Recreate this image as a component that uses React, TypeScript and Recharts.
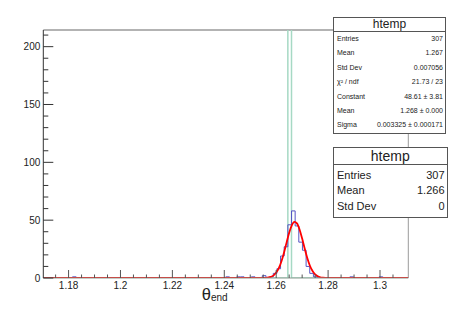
import { ComposedChart, Line, XAxis, YAxis, ReferenceLine, Label } from "recharts";

// axis range
const X_MIN = 1.17026;
const X_MAX = 1.3109;
const Y_MAX = 214.4;
const N_BINS = 100;

// blue htemp (non-empty bins only)
const binIndex = [8, 50, 53, 54, 57, 60, 62, 63, 64, 65, 66, 67, 68, 69, 70, 71, 72, 73, 74, 84, 92];
const binCount = [1, 1, 1, 1, 1, 2, 1, 4, 8, 19, 27, 46, 58, 45, 31, 24, 10, 4, 1, 1, 1];

// green htemp (all entries in one bin)
const greenIndex = [67];
const greenCount = [307];

// red fit curve (gaus)
const fitX = [1.17026, 1.255, 1.256, 1.257, 1.258, 1.259, 1.26, 1.261, 1.262, 1.263, 1.264, 1.265, 1.266, 1.267, 1.268, 1.269, 1.27, 1.271, 1.272, 1.273, 1.274, 1.275, 1.276, 1.277, 1.278, 1.279, 1.28, 1.3109];
const fitY = [0, 0.06, 0.17, 0.44, 1.06, 2.3, 4.7, 8.5, 14.3, 21.9, 30.6, 39.1, 45.5, 48.5, 47.2, 42.0, 34.1, 25.3, 17.1, 10.6, 6.0, 3.1, 1.5, 0.6, 0.25, 0.09, 0.03, 0];

const yTicks = Array.from({ length: 22 }, (_, i) => i * 10);
const xTicks = Array.from({ length: 27 }, (_, i) => (1175 + i * 5) / 1000);

const stats1 = [
  ["Entries", "307"],
  ["Mean", "1.267"],
  ["Std Dev", "0.007056"],
  ["χ² / ndf", "21.73 / 23"],
  ["Constant", "48.61 ± 3.81"],
  ["Mean", "1.268 ± 0.000"],
  ["Sigma", "0.003325 ± 0.000171"],
];
const stats2 = [
  ["Entries", "307"],
  ["Mean", "1.266"],
  ["Std Dev", "0"],
];

const FONT = "'Liberation Sans', Arial, Helvetica, sans-serif";

function stepData(idx: number[], cnt: number[]) {
  const w = (X_MAX - X_MIN) / N_BINS;
  const counts = new Array(N_BINS).fill(0);
  idx.forEach((b, i) => (counts[b] = cnt[i]));
  const pts = counts.map((c, i) => ({ x: X_MIN + i * w, y: c }));
  pts.push({ x: X_MAX, y: counts[N_BINS - 1] });
  return pts;
}

const histData = stepData(binIndex, binCount);
const greenData = stepData(greenIndex, greenCount);
const fitData = fitX.map((x, i) => ({ x, y: fitY[i] }));

const YTick = (props: any) => {
  const { x, y, payload } = props;
  const v = payload.value;
  const major = v % 50 === 0;
  return (
    <g>
      <line x1={x} y1={y} x2={x + (major ? 10 : 5)} y2={y} stroke="#333" />
      {major && (
        <text x={x - 3} y={y + 3.5} textAnchor="end" fontSize={10} fill="#222" fontFamily={FONT}>
          {v}
        </text>
      )}
    </g>
  );
};

const XTick = (props: any) => {
  const { x, y, payload } = props;
  const v = payload.value;
  const major = Math.abs(v * 50 - Math.round(v * 50)) < 1e-6;
  return (
    <g>
      <line x1={x} y1={y} x2={x} y2={y - (major ? 8 : 3.5)} stroke="#555" />
      {major && (
        <text x={x} y={y + 10.5} textAnchor="middle" fontSize={10} fill="#222" fontFamily={FONT}>
          {String(v)}
        </text>
      )}
    </g>
  );
};

const AxisTitle = (props: any) => {
  const vb = props.viewBox;
  return (
    <text x={vb.x + vb.width * 0.434} y={vb.y + 22} fontFamily={FONT} fill="#222">
      <tspan fontSize={16.5}>θ</tspan>
      <tspan fontSize={10} dy={0.7}>end</tspan>
    </text>
  );
};

function StatBox({ top, width, titleH, titleSize, rowH, rowSize, rows, padTop }: any) {
  return (
    <div
      style={{
        position: "absolute",
        left: 333,
        top,
        width,
        background: "#fff",
        border: "1px solid #555",
        fontFamily: FONT,
        color: "#222",
        boxSizing: "border-box",
      }}
    >
      <div
        style={{
          height: titleH,
          lineHeight: titleH + "px",
          textAlign: "center",
          fontSize: titleSize,
          borderBottom: "1px solid #555",
        }}
      >
        htemp
      </div>
      <div style={{ paddingTop: padTop, paddingBottom: padTop }}>
        {rows.map(([k, v]: string[], i: number) => (
          <div
            key={i}
            style={{
              display: "flex",
              justifyContent: "space-between",
              height: rowH,
              lineHeight: rowH + "px",
              fontSize: rowSize,
              padding: "0 2px 0 3px",
            }}
          >
            <span>{k}</span>
            <span>{v}</span>
          </div>
        ))}
      </div>
    </div>
  );
}

export default function App() {
  return (
    <div style={{ position: "relative", width: 454, height: 309, background: "#fff" }}>
      <style>{"body{margin:0}"}</style>
      <ComposedChart width={454} height={309} margin={{ top: 30, right: 45.7, bottom: 0, left: 0 }}>
        <XAxis
          dataKey="x"
          type="number"
          domain={[X_MIN, X_MAX]}
          allowDataOverflow
          ticks={xTicks}
          interval={0}
          tickSize={0}
          tickMargin={0}
          height={31}
          tick={<XTick />}
          axisLine={{ stroke: "#8a9a90" }}
        >
          <Label content={<AxisTitle />} />
        </XAxis>
        <YAxis
          type="number"
          domain={[0, Y_MAX]}
          allowDataOverflow
          ticks={yTicks}
          interval={0}
          tickSize={0}
          tickMargin={0}
          width={43.3}
          tick={<YTick />}
          axisLine={{ stroke: "#333" }}
        />
        <ReferenceLine y={Y_MAX} stroke="#9a9a9a" strokeWidth={1.5} />
        <ReferenceLine x={X_MAX} stroke="#9a9a9a" strokeWidth={1} />
        <Line
          data={greenData}
          dataKey="y"
          type="stepAfter"
          stroke="#a6d9c4"
          strokeWidth={1.5}
          dot={false}
          isAnimationActive={false}
        />
        <Line
          data={histData}
          dataKey="y"
          type="stepAfter"
          stroke="#5555c4"
          strokeWidth={1}
          dot={false}
          isAnimationActive={false}
        />
        <Line
          data={fitData}
          dataKey="y"
          type="monotone"
          stroke="#ff0000"
          strokeWidth={1.8}
          dot={false}
          isAnimationActive={false}
        />
      </ComposedChart>
      <StatBox top={17} width={113} titleH={13} titleSize={12} rowH={14.4} rowSize={7} rows={stats1} padTop={0} />
      <StatBox top={147} width={114.5} titleH={16} titleSize={14} rowH={15.5} rowSize={11} rows={stats2} padTop={2.5} />
    </div>
  );
}
